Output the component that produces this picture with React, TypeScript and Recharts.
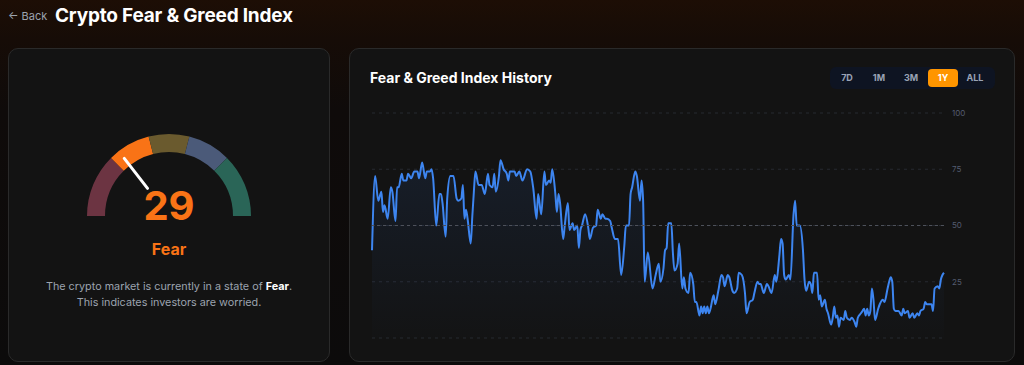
import React from "react";
import {
  AreaChart,
  Area,
  XAxis,
  YAxis,
  CartesianGrid,
  ReferenceLine,
  PieChart,
  Pie,
  Cell,
} from "recharts";

// current reading
const currentValue = 29;
const currentLabel = "Fear";

// gauge bands (sizes in index points, left to right)
const bandNames = ["Extreme Fear", "Fear", "Neutral", "Greed", "Extreme Greed"];
const bandSizes = [25, 17, 16, 17, 25];
const bandColors = ["#6c3442", "#f97316", "#6a5a2e", "#4b5a79", "#2a6557"];

// range buttons
const ranges = ["7D", "1M", "3M", "1Y", "ALL"];
const activeRange = "1Y";

// history, one year
const days = [
  0, 2, 4, 6, 7, 8, 10, 12, 13, 15, 16, 17, 19, 20, 22, 23, 25, 27, 29, 30,
  32, 34, 35, 37, 38, 39, 41, 43, 44, 45, 47, 48, 50, 52, 54, 55, 57, 58, 59, 60,
  61, 63, 64, 65, 66, 68, 70, 72, 74, 75, 77, 78, 79, 81, 82, 84, 86, 87, 88,
  91, 92, 94, 96, 99, 101, 103, 105, 106, 108, 110, 111, 113, 114, 115, 117, 118, 119, 120, 122,
  123, 125, 126, 128, 129, 131, 132, 133, 134, 136, 138, 139, 141, 143, 144, 146, 147, 149, 150, 152,
  153, 155, 157, 159, 161, 162, 164, 165, 166, 168, 169, 171, 172, 173, 174, 176,
  179, 181, 183, 184, 186, 187, 188, 189, 191, 192, 193, 195, 196, 198, 199, 200, 202, 203, 205, 206,
  207, 209, 210, 211, 212, 213, 214, 215, 216, 218, 219, 221, 223, 224, 225, 227, 228, 230, 231, 233,
  234, 236, 238, 239, 241, 243, 244, 246, 247, 248, 250, 252, 253, 255, 257, 258, 260, 261, 262, 263,
  264, 266, 267, 269, 270, 271, 273,
  275, 276, 277, 279, 280, 281, 282, 284, 285, 286, 287, 289, 290, 291, 293, 294, 295, 296, 297, 298,
  299, 301, 302, 303, 305, 306, 308, 309, 310, 312, 313, 314, 315, 316, 317, 318, 319, 320, 321, 323,
  324, 326, 327, 329, 330, 331, 332, 333, 334, 336, 338, 339, 340, 342, 343, 345, 346, 348, 349, 350,
  352, 353, 354, 355, 357, 358, 359, 361, 362, 363, 364, 365,
];
const values = [
  39, 72, 61, 65, 56, 59, 53, 67, 65, 52, 67, 67, 73, 70, 70, 73, 71, 74, 74, 71,
  78, 71, 74, 74, 75, 71, 50, 64, 64, 60, 45, 62, 72, 72, 62, 61, 62, 68, 53, 57,
  53, 42, 54, 65, 74, 68, 68, 64, 73, 68, 67, 73, 65, 72, 79, 75, 73, 70, 74,
  74, 72, 74, 70, 75, 74, 66, 53, 64, 55, 74, 68, 70, 69, 75, 64, 56, 64, 60, 44,
  50, 60, 48, 51, 48, 50, 40, 48, 50, 55, 49, 44, 49, 50, 57, 53, 55, 53, 53, 52,
  49, 44, 44, 28, 41, 50, 50, 64, 67, 74, 72, 61, 70, 61, 25, 38,
  22, 28, 33, 25, 31, 39, 40, 51, 51, 38, 30, 33, 42, 22, 27, 22, 20, 29, 24, 16,
  16, 10, 14, 11, 14, 11, 14, 11, 13, 19, 15, 21, 28, 27, 23, 28, 27, 21, 20, 22,
  29, 28, 20, 11, 16, 17, 20, 25, 24, 24, 20, 24, 23, 20, 28, 25, 37, 44, 42, 28,
  26, 28, 26, 55, 61, 50, 50,
  39, 26, 21, 25, 24, 20, 29, 29, 17, 19, 14, 17, 13, 11, 6, 9, 14, 9, 10, 5,
  9, 8, 12, 9, 8, 9, 7, 5, 9, 11, 12, 13, 10, 13, 10, 12, 22, 17, 8, 13,
  15, 17, 16, 22, 25, 27, 25, 13, 12, 12, 10, 13, 11, 12, 9, 11, 9, 11, 10, 12,
  13, 16, 15, 15, 15, 12, 22, 23, 22, 26, 28, 29,
];
const yTicks = [0, 25, 50, 75, 100];

const history = days.map((d, i) => ({ day: d, value: values[i] }));
const bands = bandNames.map((name, i) => ({ name, value: bandSizes[i] }));
const needleData = [{ value: currentValue }, { value: 100 - currentValue }];

const ORANGE = "#f97316";

// draws the needle at the end angle of the first slice
const renderNeedle = (props: any) => {
  if (props.index !== 0) return null;
  const angle = props.endAngle ?? 180 - 180 * props.percent;
  const rad = (Math.PI / 180) * angle;
  const { cx, cy } = props;
  return (
    <line
      x1={cx + 35 * Math.cos(rad)}
      y1={cy - 35 * Math.sin(rad)}
      x2={cx + 73 * Math.cos(rad)}
      y2={cy - 73 * Math.sin(rad)}
      stroke="#ffffff"
      strokeWidth={3}
      strokeLinecap="round"
    />
  );
};

export default function App() {
  return (
    <div
      style={{
        position: "absolute",
        left: 0,
        top: 0,
        width: 1024,
        height: 365,
        overflow: "hidden",
        fontFamily: "Inter, 'Noto Sans', sans-serif",
        background:
          "linear-gradient(180deg, #1d0e05 0px, #160c07 40px, #0f0b0a 110px, #0c0b0b 365px)",
      }}
    >
      <div style={{ position: "absolute", left: 8, top: 9, fontSize: 11, color: "#9ca3af" }}>
        ← Back
      </div>
      <div
        style={{
          position: "absolute",
          left: 55,
          top: 4,
          fontSize: 19,
          fontWeight: 700,
          color: "#ffffff",
          letterSpacing: -0.2,
        }}
      >
        Crypto Fear &amp; Greed Index
      </div>

      {/* left card */}
      <div
        style={{
          position: "absolute",
          left: 8,
          top: 48,
          width: 320,
          height: 312,
          background: "#131313",
          border: "1px solid #2a2a2a",
          borderRadius: 10,
        }}
      />
      <div style={{ position: "absolute", left: 69, top: 116 }}>
        <PieChart width={200} height={110} margin={{ top: 0, right: 0, bottom: 0, left: 0 }}>
          <Pie
            data={bands}
            dataKey="value"
            cx={100}
            cy={100}
            startAngle={180}
            endAngle={0}
            innerRadius={64}
            outerRadius={82}
            stroke="none"
            isAnimationActive={false}
          >
            {bands.map((b, i) => (
              <Cell key={b.name} fill={bandColors[i]} />
            ))}
          </Pie>
          <Pie
            data={needleData}
            dataKey="value"
            cx={100}
            cy={100}
            startAngle={180}
            endAngle={0}
            innerRadius={35}
            outerRadius={73}
            fill="none"
            stroke="none"
            label={renderNeedle}
            labelLine={false}
            isAnimationActive={false}
          >
            {needleData.map((_, i) => (
              <Cell key={i} fill="transparent" />
            ))}
          </Pie>
        </PieChart>
      </div>
      <div
        style={{
          position: "absolute",
          left: 69,
          width: 200,
          top: 186,
          textAlign: "center",
          fontSize: 40,
          lineHeight: "40px",
          fontWeight: 700,
          color: ORANGE,
        }}
      >
        {currentValue}
      </div>
      <div
        style={{
          position: "absolute",
          left: 69,
          width: 200,
          top: 241,
          textAlign: "center",
          fontSize: 16,
          lineHeight: "16px",
          fontWeight: 700,
          color: ORANGE,
        }}
      >
        {currentLabel}
      </div>
      <div
        style={{
          position: "absolute",
          left: 8,
          width: 322,
          top: 279,
          textAlign: "center",
          fontSize: 10.8,
          lineHeight: "16px",
          color: "#9ca3af",
        }}
      >
        The crypto market is currently in a state of{" "}
        <span style={{ color: "#ffffff", fontWeight: 700 }}>{currentLabel}</span>.
        <br />
        This indicates investors are worried.
      </div>

      {/* right card */}
      <div
        style={{
          position: "absolute",
          left: 349,
          top: 48,
          width: 664,
          height: 312,
          background: "#131313",
          border: "1px solid #2a2a2a",
          borderRadius: 10,
        }}
      />
      <div
        style={{
          position: "absolute",
          left: 370,
          top: 69,
          fontSize: 14,
          fontWeight: 700,
          color: "#ffffff",
        }}
      >
        Fear &amp; Greed Index History
      </div>
      <div
        style={{
          position: "absolute",
          left: 830,
          top: 67,
          width: 165,
          height: 22,
          background: "#0e1422",
          borderRadius: 6,
          display: "flex",
          alignItems: "center",
          paddingLeft: 2,
          gap: 2,
          boxSizing: "border-box",
        }}
      >
        {ranges.map((r) => (
          <div
            key={r}
            style={{
              width: 30,
              height: 18,
              lineHeight: "18px",
              textAlign: "center",
              fontSize: 9,
              fontWeight: 700,
              borderRadius: 4,
              color: r === activeRange ? "#ffffff" : "#9aa3b5",
              background: r === activeRange ? "#ff9500" : "transparent",
            }}
          >
            {r}
          </div>
        ))}
      </div>
      <div style={{ position: "absolute", left: 360, top: 100 }}>
        <AreaChart
          width={620}
          height={250}
          data={history}
          margin={{ top: 13, right: 0, bottom: 12, left: 12 }}
        >
          <defs>
            <linearGradient id="histFill" x1="0" y1="0" x2="0" y2="1">
              <stop offset="0%" stopColor="#3b82f6" stopOpacity={0.16} />
              <stop offset="100%" stopColor="#3b82f6" stopOpacity={0.01} />
            </linearGradient>
          </defs>
          <CartesianGrid vertical={false} stroke="#272a31" strokeDasharray="3 4" />
          <XAxis dataKey="day" type="number" domain={[0, 365]} hide />
          <YAxis
            orientation="right"
            domain={[0, 100]}
            ticks={yTicks}
            tickFormatter={(v) => (v === 0 ? "" : String(v))}
            axisLine={false}
            tickLine={false}
            width={36}
            tick={{ fill: "#535c70", fontSize: 8 }}
          />
          <ReferenceLine y={50} stroke="#4d515a" strokeDasharray="3 3" />
          <Area
            type="monotone"
            dataKey="value"
            stroke="#3d85f0"
            strokeWidth={2}
            fill="url(#histFill)"
            dot={false}
            activeDot={false}
            isAnimationActive={false}
          />
        </AreaChart>
      </div>
    </div>
  );
}
